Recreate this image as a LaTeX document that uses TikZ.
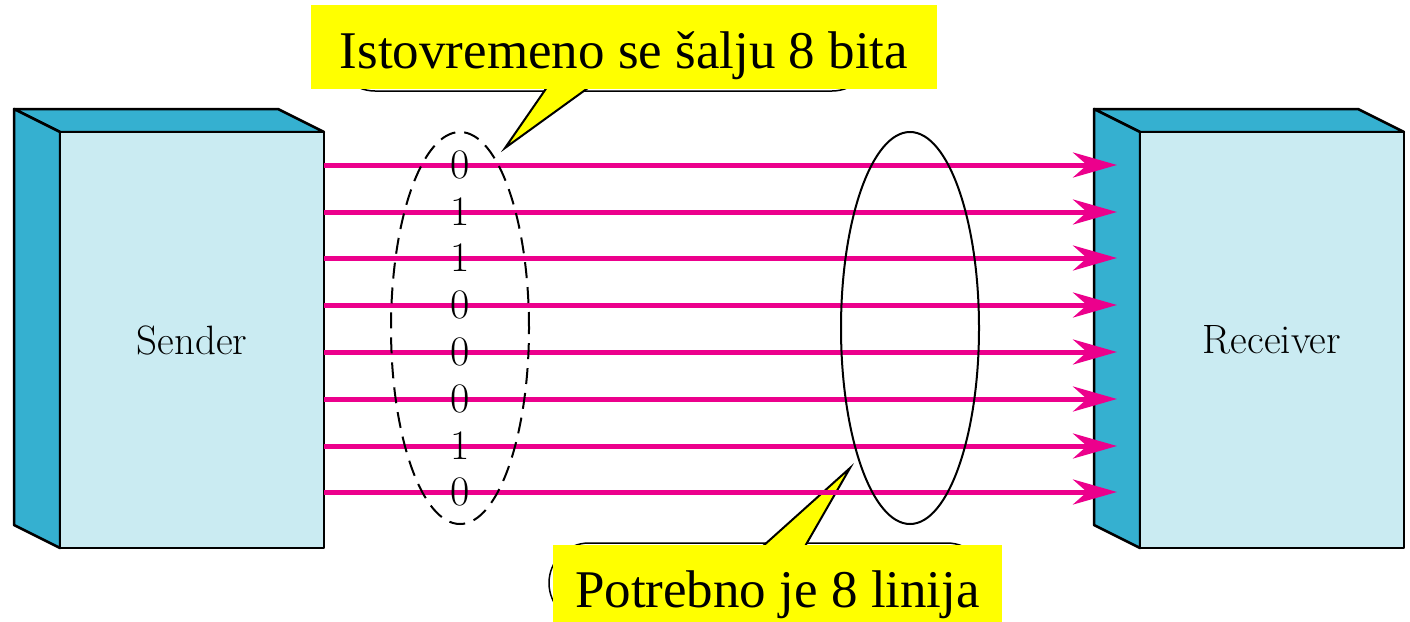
\documentclass[tikz,border=0pt]{standalone}
\usepackage{fontspec}
\newfontfamily\tnr{Liberation Serif}
\usetikzlibrary{arrows.meta}
\definecolor{sidecol}{RGB}{53,176,208}
\definecolor{frontcol}{RGB}{202,235,242}
\definecolor{wirecol}{RGB}{236,0,140}
\definecolor{calloutyellow}{RGB}{255,255,0}
\tikzset{
  face/.style={draw=black, line width=2.5pt, line join=round},
  frontface/.style={face, fill=frontcol, inner sep=0pt, minimum width=264pt, minimum height=416pt,
    font=\fontsize{41}{48}\selectfont},
  sideface/.style={face, fill=sidecol},
  wire/.style={draw=wirecol, line width=5pt, -{Stealth[length=44pt,width=25pt,inset=14pt]}},
  bit/.style={font=\fontsize{42}{48}\selectfont, inner sep=0pt},
  calloutbody/.style={draw=black, line width=1.5pt, fill=white, rounded corners=40pt},
  pointer/.style={draw=black, line width=2pt, fill=calloutyellow, line join=miter},
  callbox/.style={fill=calloutyellow, inner sep=0pt, font=\tnr\fontsize{53}{60}\selectfont},
}
\begin{document}
\begin{tikzpicture}[x=1pt,y=-1pt]
\useasboundingbox (0,0) rectangle (1410,621);
% Sender box
\draw[sideface] (14,109) -- (278,109) -- (324,132) -- (60,132) -- cycle;
\draw[sideface] (14,109) -- (60,132) -- (60,548) -- (14,525) -- cycle;
\node[frontface] (S) at (192,340) {Sender};
% Receiver box
\draw[sideface] (1094,109) -- (1358,109) -- (1404,132) -- (1140,132) -- cycle;
\draw[sideface] (1094,109) -- (1140,132) -- (1140,548) -- (1094,525) -- cycle;
\node[frontface] (R) at (1272,340) {Receiver};
% callout 1
\draw[calloutbody] (335,11) rectangle (872,91);
\draw[pointer] (552,80) -- (505,148) -- (599,80) -- cycle;
\node[callbox, minimum width=626pt, text height=63pt, text depth=21pt] (c1) at (624,47) {Istovremeno se šalju 8 bita};
% callout 2
\draw[calloutbody] (549,543) rectangle (987,623);
\draw[pointer] (753,555) -- (850,468) -- (800,555) -- cycle;
\node[callbox, minimum width=449pt, text height=62pt, text depth=18pt] (c2) at (777.5,585) {Potrebno je 8 linija};
% wires
\foreach \i/\y in {1/165,2/212,3/258,4/305,5/352,6/399,7/446,8/492}{
  \coordinate (a\i) at (324,\y);
  \coordinate (b\i) at (1117,\y);
  \draw[wire] (a\i) -- (b\i);
}
% ellipses
\draw[line width=2pt, dash pattern=on 16pt off 9pt] (460,328) ellipse [x radius=69pt, y radius=196pt];
\draw[line width=2pt] (910,328) ellipse [x radius=69pt, y radius=196pt];
% bits
\foreach \i/\y/\b in {1/165/0,2/212/1,3/258/1,4/305/0,5/352/0,6/399/0,7/446/1,8/492/0}{
  \node[bit] (bit\i) at (460,\y) {\b};
}
\end{tikzpicture}
\end{document}
